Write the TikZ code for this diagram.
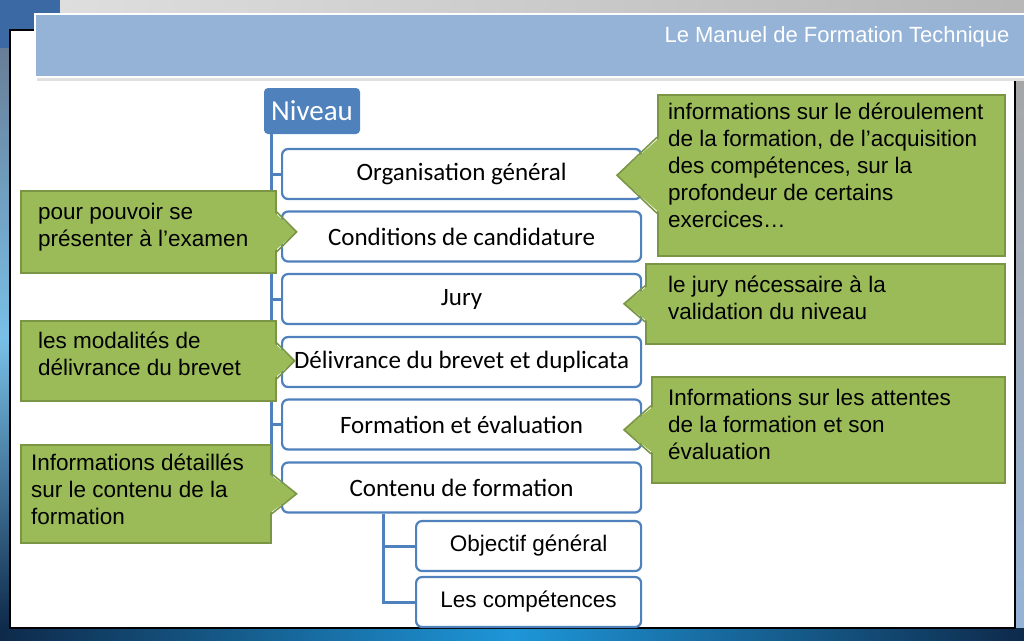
\documentclass[tikz,border=0pt]{standalone}
\usepackage{fontspec}
\setmainfont{Liberation Sans}
\newfontfamily\calib{Carlito}
\usetikzlibrary{calc}
\definecolor{boxblue}{HTML}{4F81BD}
\definecolor{headblue}{HTML}{95B3D7}
\definecolor{notegreen}{HTML}{9BBB59}
\definecolor{noteline}{HTML}{7A9645}
\definecolor{deskblue}{HTML}{3A69A3}
\definecolor{deepblue}{HTML}{0E2A4A}
\definecolor{skyblue}{HTML}{1E96D8}

\begin{document}
\begin{tikzpicture}[x=1pt,y=-1pt,
    box/.style={draw=boxblue,line width=2.2pt,fill=white,rounded corners=6pt,minimum width=359pt,minimum height=50pt,anchor=west,font=\calib\fontsize{25}{30}\selectfont},
    subbox/.style={box,minimum width=225pt,font=\fontsize{22.5}{27}\selectfont},
    tree/.style={boxblue,line width=3pt},
    note/.style={draw=noteline,fill=notegreen,line width=1.6pt,anchor=north west},
    notetext/.style={anchor=base west,align=left,inner sep=0pt,font=\fontsize{22.5}{27}\selectfont},
    tipfill/.style={fill=notegreen},
    tipline/.style={noteline,line width=1.6pt,line join=miter}]
        \useasboundingbox (0,0) rectangle (1024,640);
        \fill[black!22] (0,0) rectangle (1024,640);
        \shade[left color=black!12,right color=black!28] (0,0) rectangle (1024,30);
        \fill[deskblue] (0,0) rectangle (60,48);
        \shade[top color=black!30!headblue,bottom color=deepblue,middle color=skyblue!60] (0,48) rectangle (12,628);
        \shade[top color=black!35,bottom color=headblue] (1012,77) rectangle (1024,628);
        \shade[left color=deepblue,right color=deepblue,middle color=skyblue] (0,628) rectangle (1024,640);
        \filldraw[fill=white,draw=black,line width=1.5pt] (10,30) rectangle (1015,628);
        \fill[black!12] (37,77) rectangle (1024,81);
        \filldraw[fill=headblue,draw=white,line width=1.5pt] (35,14) rectangle (1030,77);
        \node[anchor=east,text=white,font=\fontsize{22}{26}\selectfont] (titre) at (1013,37) {Le Manuel de Formation Technique};

        \node[fill=boxblue,rounded corners=4pt,minimum width=96pt,minimum height=46pt,text=white,font=\calib\fontsize{29}{34}\selectfont] (niveau) at (312,111) {Niveau};
        \node[box] (org) at (281,174) {Organisation général};
        \node[box] (cond) at (281,236.5) {Conditions de candidature};
        \node[box] (jury) at (281,299) {Jury};
        \node[box] (deliv) at (281,362) {Délivrance du brevet et duplicata};
        \node[box] (form) at (281,424.5) {Formation et évaluation};
        \node[box] (cont) at (281,487.5) {Contenu de formation};
        \node[subbox] (obj) at (415,546) {Objectif général};
        \node[subbox] (comp) at (415,602) {Les compétences};

        \coordinate (trunk) at ($(niveau.south west)+(8,0)$);
        \coordinate (branch) at ($(cont.south west)+(102,0)$);
        \foreach \b in {org,cond,jury,deliv,form,cont}
            \draw[tree] (trunk) |- (\b.west);
        \foreach \b in {obj,comp}
            \draw[tree] (branch) |- (\b.west);

        \node[note,minimum width=255pt,minimum height=82pt] (pour) at (20,190) {};
        \fill[tipfill] ($(pour.east)+(-3,-20)$) -- ($(pour.east)+(20,0)$) -- ($(pour.east)+(-3,20)$) -- cycle;
        \draw[tipline] ($(pour.east)+(0,-20)$) -- ($(pour.east)+(20,0)$) -- ($(pour.east)+(0,20)$);
        \node[notetext] at ($(pour.north west)+(18,56)$) {pour pouvoir se\\présenter à l’examen};

        \node[note,minimum width=255pt,minimum height=80pt] (modal) at (20,320) {};
        \fill[tipfill] ($(modal.east)+(-3,-18)$) -- ($(modal.east)+(18,0)$) -- ($(modal.east)+(-3,18)$) -- cycle;
        \draw[tipline] ($(modal.east)+(0,-18)$) -- ($(modal.east)+(18,0)$) -- ($(modal.east)+(0,18)$);
        \node[notetext] at ($(modal.north west)+(18,55)$) {les modalités de\\délivrance du brevet};

        \node[note,minimum width=250pt,minimum height=98pt] (detail) at (20,444) {};
        \fill[tipfill] ($(detail.east)+(-3,-20)$) -- ($(detail.east)+(25,0)$) -- ($(detail.east)+(-3,20)$) -- cycle;
        \draw[tipline] ($(detail.east)+(0,-20)$) -- ($(detail.east)+(25,0)$) -- ($(detail.east)+(0,20)$);
        \node[notetext] at ($(detail.north west)+(11,80)$) {Informations détaillés\\sur le contenu de la\\formation};

        \node[note,minimum width=347pt,minimum height=161pt] (deroul) at (657,94) {};
        \fill[tipfill] ($(deroul.west)+(3,-38)$) -- ($(deroul.west)+(-40,0)$) -- ($(deroul.west)+(3,38)$) -- cycle;
        \draw[tipline] ($(deroul.west)+(0,-38)$) -- ($(deroul.west)+(-40,0)$) -- ($(deroul.west)+(0,38)$);
        \node[notetext] at ($(deroul.north west)+(11,133)$) {informations sur le déroulement\\de la formation, de l’acquisition\\des compétences, sur la\\profondeur de certains\\exercices…};

        \node[note,minimum width=359pt,minimum height=80pt] (valid) at (645,263) {};
        \fill[tipfill] ($(valid.west)+(3,-18)$) -- ($(valid.west)+(-21,0)$) -- ($(valid.west)+(3,18)$) -- cycle;
        \draw[tipline] ($(valid.west)+(0,-18)$) -- ($(valid.west)+(-21,0)$) -- ($(valid.west)+(0,18)$);
        \node[notetext] at ($(valid.north west)+(23,56)$) {le jury nécessaire à la\\validation du niveau};

        \node[note,minimum width=353pt,minimum height=106pt] (attente) at (651,376) {};
        \fill[tipfill] ($(attente.west)+(3,-24)$) -- ($(attente.west)+(-27,0)$) -- ($(attente.west)+(3,24)$) -- cycle;
        \draw[tipline] ($(attente.west)+(0,-24)$) -- ($(attente.west)+(-27,0)$) -- ($(attente.west)+(0,24)$);
        \node[notetext] at ($(attente.north west)+(17,83)$) {Informations sur les attentes\\de la formation et son\\évaluation};
      \end{tikzpicture}
\end{document}
